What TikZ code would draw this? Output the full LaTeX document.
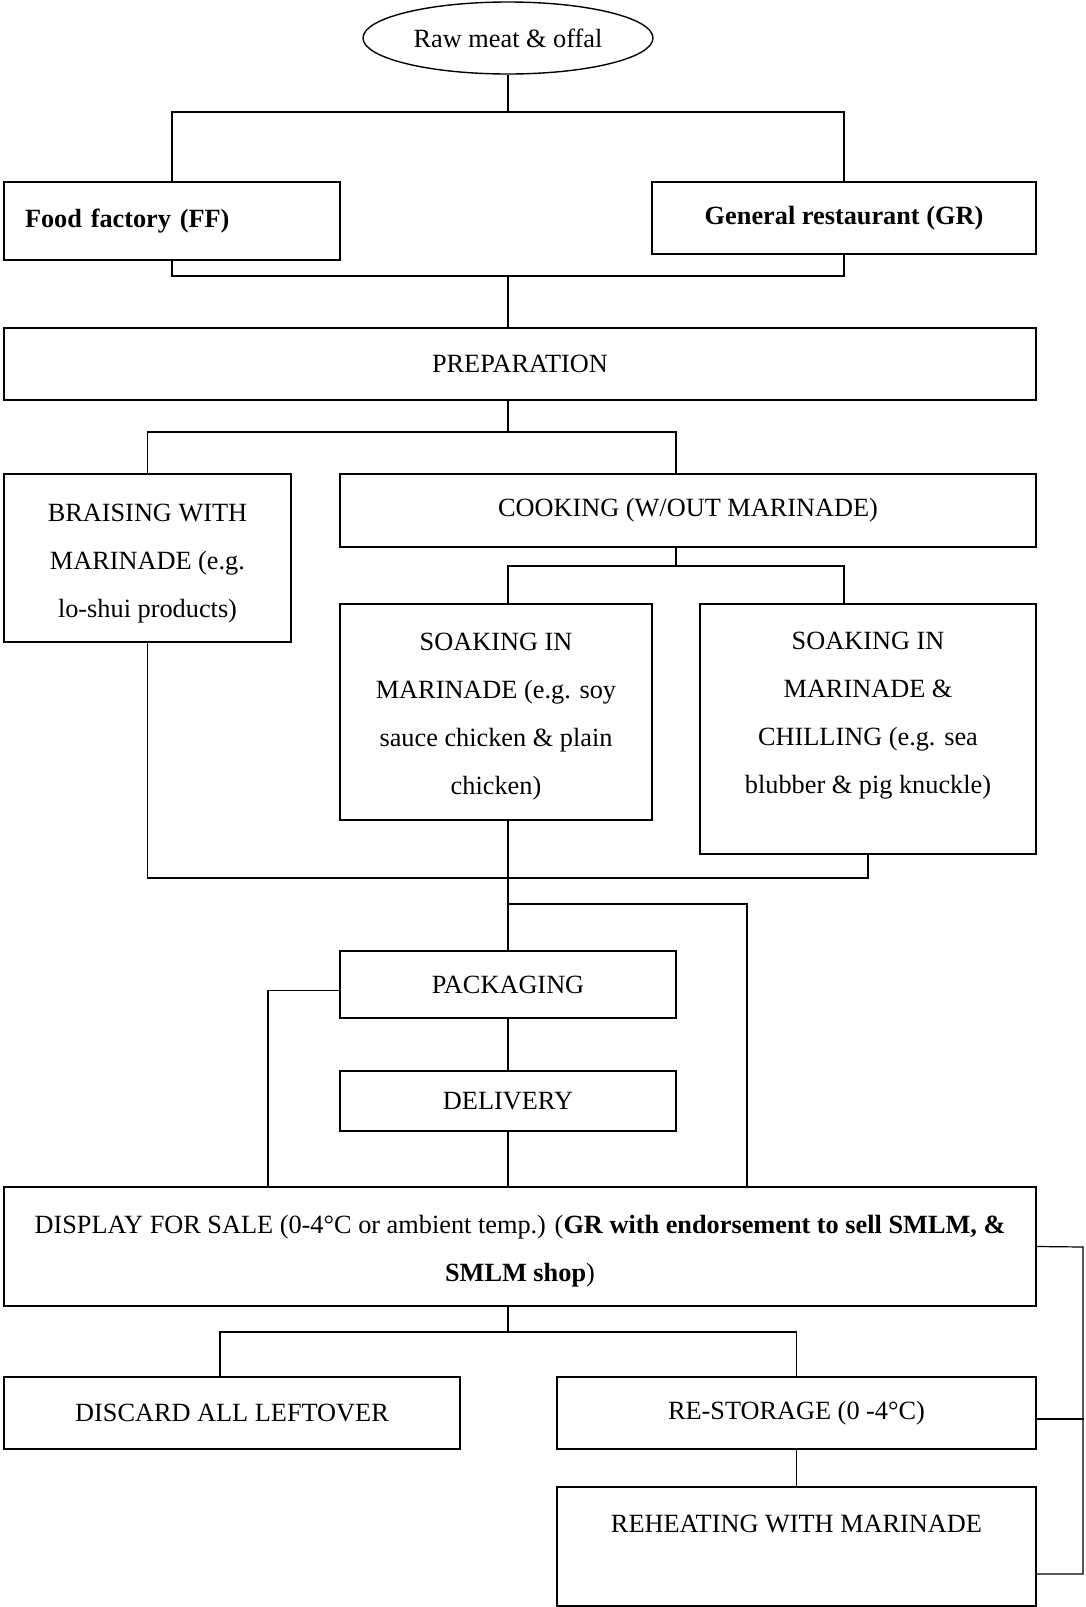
\documentclass[tikz,border=0pt]{standalone}
\usepackage{fontspec}
\setmainfont{Liberation Serif}
\usetikzlibrary{shapes.geometric}

\tikzset{
  box/.style={draw, rectangle, line width=1.6pt, align=center, inner sep=2pt},
  conn/.style={line width=1.2pt},
}

\begin{document}
\begin{tikzpicture}[x=1pt, y=-1pt, font=\fontsize{26.3}{48}\selectfont]
    \useasboundingbox (0,0) rectangle (1085,1607);
    % Start:
    \node[draw, ellipse, line width=1.4pt, minimum width=290, minimum height=72, inner sep=0pt] (raw) at (508,38) {Raw meat \& offal};
    % Betriebe:
    \node[box, minimum width=336, minimum height=78, text width=294, align=left, font=\fontsize{26.3}{48}\selectfont\bfseries] (ff) at (172,221) {Food factory (FF)};
    \node[box, minimum width=384, minimum height=72, font=\fontsize{26.3}{48}\selectfont\bfseries] (gr) at (844,218) {General restaurant (GR)};
    \node[box, minimum width=1032, minimum height=72] (prep) at (520,364) {PREPARATION};
    % Garen:
    \node[box, minimum width=287, minimum height=168] (braise) at (147.5,558) {\rule{0pt}{28pt}BRAISING WITH\\MARINADE (e.g.\\lo-shui products)};
    \node[box, minimum width=696, minimum height=73] (cook) at (688,510.5) {COOKING (W/OUT MARINADE)};
    \node[box, minimum width=312, minimum height=216] (soak1) at (496,712) {\rule{0pt}{26pt}SOAKING IN\\MARINADE (e.g. soy\\sauce chicken \& plain\\chicken)};
    \node[box, minimum width=336, minimum height=250] (soak2) at (868,729) {};
    \node[align=center] (soak2txt) at (868,716) {SOAKING IN\\MARINADE \&\\CHILLING (e.g. sea\\blubber \& pig knuckle)};
    % Verpackung und Verkauf:
    \node[box, minimum width=336, minimum height=67] (pack) at (508,984.5) {PACKAGING};
    \node[box, minimum width=336, minimum height=60] (deliv) at (508,1101) {DELIVERY};
    \node[box, minimum width=1032, minimum height=119] (disp) at (520,1246.5) {\rule{0pt}{28pt}DISPLAY FOR SALE (0-4°C or ambient temp.) (\textbf{GR with endorsement to sell SMLM, \&}\\\textbf{SMLM shop})};
    % Reste:
    \node[box, minimum width=456, minimum height=72] (discard) at (232,1413) {DISCARD ALL LEFTOVER};
    \node[box, minimum width=479, minimum height=72] (restore) at (796.5,1413) {RE-STORAGE (0 -4°C)};
    \node[box, minimum width=479, minimum height=119] (reheat) at (796.5,1546.5) {};
    \node (reheattxt) at (796.5,1524) {REHEATING WITH MARINADE};

    % Verzweigungspunkte:
    \coordinate (top) at (508,112);
    \coordinate (mid1) at (508,276);
    \coordinate (mid2) at (508,432);
    \coordinate (mid3) at (676,566);
    \coordinate (mid4) at (508,878);
    \coordinate (mid5) at (508,904);
    \coordinate (mid6) at (508,1332);
    \coordinate (loopR) at (1083,1247);

    % Linien oben:
    \draw[conn] (raw) -- (top);
    \draw[conn] (ff.north) |- (top) -| (gr.north);
    \draw[conn] (ff.south) |- (mid1) -| (gr.south);
    \draw[conn] (mid1) -- (mid1 |- prep.north);
    \draw[conn] (mid2 |- prep.south) -- (mid2);
    \draw[conn] (braise.north) |- (mid2) -| ([xshift=-12]cook.north);
    \draw[conn] (mid3 |- cook.south) -- (mid3);
    \draw[conn] ([xshift=12]soak1.north) |- (mid3) -| ([xshift=-24]soak2.north);
    % Zusammenfuehrung:
    \draw[conn] (braise.south) |- (mid4) -| (soak2.south);
    \draw[conn] ([xshift=12]soak1.south) -- (pack.north);
    \draw[conn] (mid5) -| ([xshift=227]disp.north);
    \draw[conn] ([yshift=-6]pack.west) -| ([xshift=-252]disp.north);
    \draw[conn] (pack) -- (deliv);
    \draw[conn] (deliv) -- ([xshift=-12]disp.north);
    % Linien unten:
    \draw[conn] ([xshift=-12]disp.south) -- (mid6);
    \draw[conn] ([xshift=-12]discard.north) |- (mid6) -| (restore.north);
    \draw[conn] (restore) -- (reheat);
    \draw[conn] (disp.east) -- (loopR) |- ([yshift=-27.5]reheat.east);
    \draw[conn] ([yshift=-6]restore.east) -- ++(47,0);
\end{tikzpicture}
\end{document}
